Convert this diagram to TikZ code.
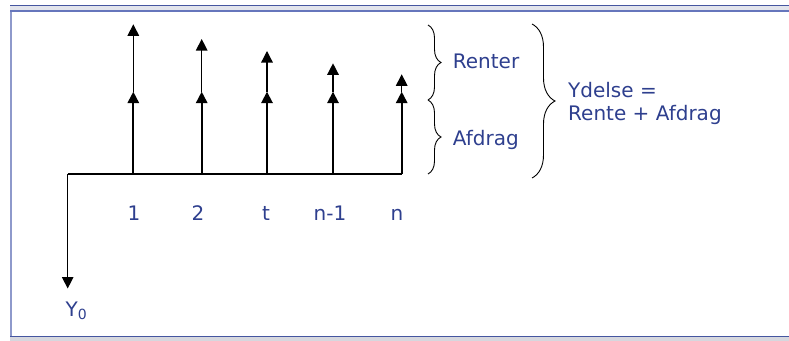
\documentclass[tikz,border=0pt]{standalone}
\usepackage{fontspec}
\setmainfont{DejaVu Sans}
\usetikzlibrary{arrows.meta,decorations.pathreplacing}
\definecolor{txtblue}{HTML}{2E3F8E}
\definecolor{framedark}{HTML}{4556A0}
\definecolor{framemid}{HTML}{6676BC}
\definecolor{frameleft}{HTML}{8E99CB}
\definecolor{framegrey}{HTML}{E2E4EC}
\definecolor{bottomgrey}{HTML}{D6D7DE}
\tikzset{
  lbl/.style={text=txtblue, inner sep=0pt, font=\fontsize{20}{24}\selectfont},
  flow/.style={line width=1.3pt, -{Triangle[width=11.5pt,length=11.5pt]}},
  lowflow/.style={flow, line width=1.8pt},
  brc/.style={line width=0.9pt, decorate},
}
\begin{document}
\begin{tikzpicture}[x=1pt,y=-1pt]
\useasboundingbox (0,0) rectangle (789,340);
% frame (extends past the right edge so no seam shows)
\fill[framegrey] (10,5) rectangle (800,11);
\draw[framedark, line width=1.3pt] (10,5.6) -- (800,5.6);
\draw[framemid, line width=1.8pt] (10,11) -- (800,11);
\fill[frameleft] (9.8,11.8) rectangle (12.2,336);
\fill[bottomgrey] (10,337.3) rectangle (800,345);
\draw[framedark, line width=1.6pt] (10,336.6) -- (800,336.6);
% axis
\coordinate (o) at (67.7,174);
\coordinate (e) at (401.7,174);
\coordinate (y0) at (67.7,288.5);
\draw[line width=1.5pt] (o) -- (e);
\draw[flow] (o) -- (y0);
% payment arrows
\foreach \i/\x/\t in {a/133.3/24.3, b/201.7/39, c/267/51, d/333/63.3, f/401.7/74.3}{
  \coordinate (\i0) at (\x,174);
  \coordinate (\i1) at (\x,91.7);
  \coordinate (\i2) at (\x,\t);
  \draw[lowflow] (\i0) -- (\i1);
  \draw[flow] (\i1) -- (\i2);
}
% labels
\node[lbl, anchor=base] (l1) at (134,220) {1};
\node[lbl, anchor=base] (l2) at (198,220) {2};
\node[lbl, anchor=base] (lt) at (266,220) {t};
\node[lbl, anchor=base] (ln1) at (330,220) {n-1};
\node[lbl, anchor=base] (ln) at (397,220) {n};
\node[lbl, anchor=base west] (Y) at (65.5,316.7) {Y\textsubscript{0}};
% braces
\coordinate (b1t) at (428,25);
\coordinate (b1m) at (428,100);
\coordinate (b1b) at (428,174);
\draw[brc, decoration={brace, amplitude=13pt}] (b1t) -- (b1m);
\draw[brc, decoration={brace, amplitude=13pt}] (b1m) -- (b1b);
\coordinate (b2t) at (532,24);
\coordinate (b2b) at (532,178);
\draw[brc, decoration={brace, amplitude=23pt}] (b2t) -- (b2b);
\node[lbl, anchor=base west] (renter) at (452.7,68.3) {Renter};
\node[lbl, anchor=base west] (afdrag) at (452.7,145.7) {Afdrag};
\node[lbl, anchor=base west] (ydelse) at (568,97.3) {Ydelse =};
\node[lbl, anchor=base west] (rente) at (568,120.7) {Rente + Afdrag};
\end{tikzpicture}
\end{document}
